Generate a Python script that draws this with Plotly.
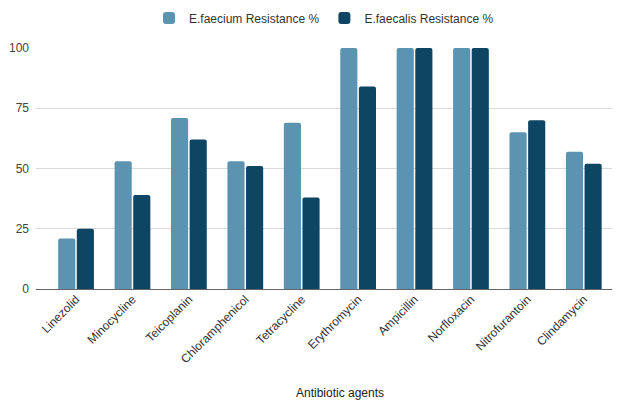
import plotly.graph_objects as go

categories = ["Linezolid", "Minocycline", "Teicoplanin", "Chloramphenicol", "Tetracycline",
              "Erythromycin", "Ampicillin", "Norfloxacin", "Nitrofurantoin", "Clindamycin"]
faecium = [21, 53, 71, 53, 69, 100, 100, 100, 65, 57]
faecalis = [25, 39, 62, 51, 38, 84, 100, 100, 70, 52]
y_ticks = [0, 25, 50, 75, 100]

fig = go.Figure()
fig.add_trace(go.Bar(x=categories, y=faecium, name="E.faecium Resistance %",
                     marker=dict(color="#5b93b0", line=dict(width=0))))
fig.add_trace(go.Bar(x=categories, y=faecalis, name="E.faecalis Resistance %",
                     marker=dict(color="#0e4563", line=dict(width=0))))

fig.update_layout(
    width=636, height=400,
    margin=dict(l=36, r=24, t=48, b=111, autoexpand=False),
    paper_bgcolor="white", plot_bgcolor="white",
    font=dict(family="Liberation Sans, Arial, sans-serif", size=12, color="#444"),
    barmode="group", bargap=0.34, bargroupgap=0.08, barcornerradius=2,
    showlegend=True,
    legend=dict(orientation="h", x=0.5, xanchor="center", y=0.955, yanchor="middle",
                yref="container", font=dict(size=12, color="#333"),
                itemwidth=30, traceorder="normal"),
    xaxis=dict(type="category", range=[-0.71, 9.5], tickangle=-45, showgrid=False,
               ticks="", showline=False, tickfont=dict(size=12, color="#333"),
               automargin=False),
    yaxis=dict(range=[0, 100], tickvals=y_ticks, showgrid=True, gridcolor="#d9d9d9",
               gridwidth=1, zeroline=True, zerolinecolor="#666", zerolinewidth=1,
               ticks="", tickfont=dict(size=12, color="#444"), ticklabelstandoff=6,
               automargin=False),
)
fig.add_annotation(text="Antibiotic agents", xref="paper", yref="paper",
                   x=0.528, y=-0.43, xanchor="center", yanchor="middle",
                   showarrow=False, font=dict(size=12, color="#222"))

fig.write_html("out.html")
